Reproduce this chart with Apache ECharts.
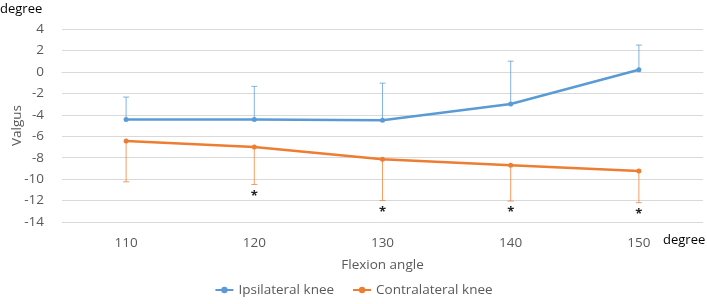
<!DOCTYPE html>
<html>
<head>
<meta charset="utf-8">
<script src="https://cdn.jsdelivr.net/npm/echarts@6/dist/echarts.min.js"></script>
<style>
  html, body { margin: 0; padding: 0; background: #fff; }
  #chart { width: 707px; height: 304px; }
</style>
</head>
<body>
<div id="chart"></div>
<script>
var categories = ['110', '120', '130', '140', '150'];
var ipsiMean = [-4.45, -4.45, -4.5, -3.0, 0.2];
var ipsiErrTop = [-2.35, -1.35, -1.05, 1.0, 2.5];
var contraMean = [-6.45, -7.0, -8.15, -8.7, -9.25];
var contraErrBottom = [-10.25, -10.5, -12.0, -12.05, -12.2];
var starY = [null, -11.6, -13.05, -13.05, -13.25];

var blue = '#5B9BD5';
var orange = '#ED7D31';
var font = 'Open Sans';

var chart = echarts.init(document.getElementById('chart'));

function errItem(color) {
  return function (params, api) {
    var p0 = api.coord([api.value(0), api.value(1)]);
    var p1 = api.coord([api.value(0), api.value(2)]);
    return {
      type: 'group',
      children: [
        { type: 'line', shape: { x1: p0[0], y1: p0[1], x2: p1[0], y2: p1[1] },
          style: { stroke: color, lineWidth: 1, opacity: 0.75 } },
        { type: 'line', shape: { x1: p1[0] - 3, y1: p1[1], x2: p1[0] + 3, y2: p1[1] },
          style: { stroke: color, lineWidth: 1, opacity: 0.75 } }
      ]
    };
  };
}

function starItem(params, api) {
  var p = api.coord([api.value(0), api.value(1)]);
  return {
    type: 'text',
    x: p[0],
    y: p[1],
    style: {
      text: '*',
      fill: '#222',
      font: 'bold 13px "Open Sans"',
      align: 'center',
      verticalAlign: 'middle'
    }
  };
}

chart.setOption({
  animation: false,
  textStyle: { fontFamily: font },
  grid: { left: 62, right: 4, top: 29, bottom: 82, outerBoundsMode: 'none', containLabel: false },
  legend: {
    bottom: 2,
    left: 'center',
    itemWidth: 18,
    itemHeight: 8,
    itemGap: 18,
    textStyle: { color: '#595959', fontSize: 13.5 },
    data: ['Ipsilateral knee', 'Contralateral knee']
  },
  xAxis: {
    type: 'category',
    data: categories,
    boundaryGap: true,
    name: 'Flexion angle',
    nameLocation: 'middle',
    nameGap: 36,
    nameMoveOverlap: false,
    nameTextStyle: { color: '#595959', fontSize: 13.5 },
    axisLine: { lineStyle: { color: '#d9d9d9' } },
    axisTick: { show: false },
    axisLabel: { color: '#595959', fontSize: 13.5, margin: 14 }
  },
  yAxis: {
    type: 'value',
    min: -14,
    max: 4,
    interval: 2,
    name: 'Valgus',
    nameLocation: 'middle',
    nameGap: 38,
    nameMoveOverlap: false,
    nameTextStyle: { color: '#595959', fontSize: 13.5 },
    axisLine: { show: false },
    axisTick: { show: false },
    axisLabel: { color: '#595959', fontSize: 13.5, margin: 18 },
    splitLine: { lineStyle: { color: '#d9d9d9' } }
  },
  graphic: [
    { type: 'text', left: 0, top: 3, style: { text: 'degree', fill: '#000', font: '13px "Open Sans"' } },
    { type: 'text', left: 663, top: 234, style: { text: 'degree', fill: '#000', font: '13px "Open Sans"' } }
  ],
  series: [
    {
      name: 'Ipsilateral knee',
      type: 'line',
      data: ipsiMean,
      color: blue,
      symbol: 'circle',
      symbolSize: 5,
      lineStyle: { width: 2.5, color: blue },
      itemStyle: { color: blue },
      z: 3
    },
    {
      name: 'Contralateral knee',
      type: 'line',
      data: contraMean,
      color: orange,
      symbol: 'circle',
      symbolSize: 5,
      lineStyle: { width: 2.5, color: orange },
      itemStyle: { color: orange },
      z: 3
    },
    {
      type: 'custom',
      renderItem: errItem(blue),
      data: categories.map(function (c, i) { return [i, ipsiMean[i], ipsiErrTop[i]]; }),
      z: 2
    },
    {
      type: 'custom',
      renderItem: errItem(orange),
      data: categories.map(function (c, i) { return [i, contraMean[i], contraErrBottom[i]]; }),
      z: 2
    },
    {
      type: 'custom',
      renderItem: starItem,
      data: categories.map(function (c, i) { return [i, starY[i]]; }).filter(function (d) { return d[1] !== null; }),
      silent: true,
      z: 4
    }
  ]
});
</script>
</body>
</html>
